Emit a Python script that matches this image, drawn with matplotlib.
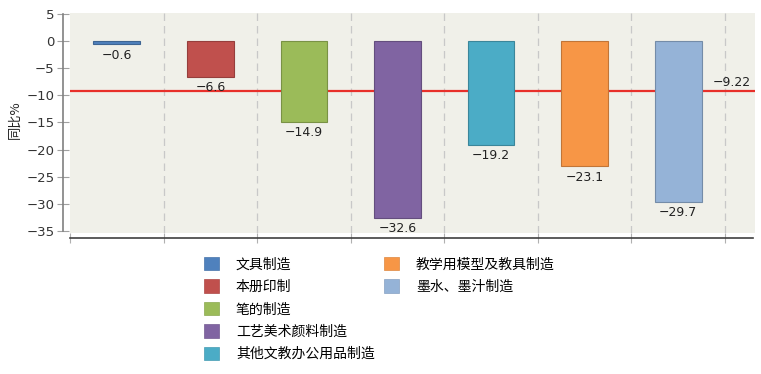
import matplotlib
matplotlib.use("Agg")
import matplotlib.pyplot as plt
from matplotlib.patches import Patch
from matplotlib.transforms import blended_transform_factory
import matplotlib.colors as mcolors

plt.rcParams['font.family'] = ['DejaVu Sans', 'Noto Sans CJK SC']
plt.rcParams['axes.unicode_minus'] = True

categories = ["文具制造", "本册印制", "笔的制造", "工艺美术颜料制造",
              "其他文教办公用品制造", "教学用模型及教具制造", "墨水、墨汁制造"]
values = [-0.6, -6.6, -14.9, -32.6, -19.2, -23.1, -29.7]
colors = ["#4f81bd", "#c0504d", "#9bbb59", "#8064a2", "#4bacc6", "#f79646", "#95b3d7"]
reference_value = -9.22
ylabel = "同比%"
yticks = [5, 0, -5, -10, -15, -20, -25, -30, -35]

W, H = 761, 374
fig = plt.figure(figsize=(W / 100, H / 100), dpi=100)
ax = fig.add_axes([70 / W, 1 - 233 / H, 685 / W, 220 / H])
ax.set_facecolor("#f0f0e9")

def darker(c, f=0.78):
    r, g, b = mcolors.to_rgb(c)
    return (r * f, g * f, b * f)

x = list(range(len(values)))
ax.bar(x, values, width=0.5, color=colors,
       edgecolor=[darker(c) for c in colors], linewidth=0.8, zorder=3)

ax.axhline(reference_value, color="#e8302a", linewidth=1.6, zorder=2)

for i in range(len(values)):
    ax.axvline(i + 0.5, color="#c8c8c8", linestyle=(0, (6, 4)), linewidth=0.9, zorder=1)

for xi, v in zip(x, values):
    ax.annotate(f"{v:.1f}".replace("-", "\u2212"), xy=(xi, v), xytext=(0, -3),
                textcoords="offset points", ha="center", va="top",
                fontsize=9, color="#222222", zorder=4)

tr = blended_transform_factory(ax.transAxes, ax.transData)
ax.annotate(f"{reference_value:.2f}".replace("-", "\u2212"), xy=(1, reference_value),
            xycoords=tr, xytext=(-3, 1.5), textcoords="offset points",
            ha="right", va="bottom", fontsize=9, color="#222222")

ax.set_xlim(-0.5, 6.5 + 30 / 93.7)
ax.set_ylim(-35.37, 5.18)
ax.set_yticks(yticks)
ax.set_yticklabels([str(t).replace("-", "\u2212") for t in yticks])
ax.set_xticks([i - 0.5 for i in range(len(values) + 1)])
ax.set_xticklabels([])

for s in ["top", "right"]:
    ax.spines[s].set_visible(False)
ax.spines["left"].set_position(("outward", 5))
ax.spines["left"].set_bounds(-35, 5)
ax.spines["left"].set_color("#808080")
ax.spines["left"].set_linewidth(1.2)
ax.spines["bottom"].set_position(("outward", 3.6))
ax.spines["bottom"].set_color("#404040")
ax.spines["bottom"].set_linewidth(1.2)
ax.spines["bottom"].set_bounds(-0.5, 6.5 + 28 / 93.7)
ax.tick_params(axis="y", direction="inout", length=8, width=0.8, color="#a0a0a0",
               labelsize=9.5, labelcolor="#333333", pad=2)
ax.tick_params(axis="x", direction="inout", length=7, width=0.8, color="#b0b0b0")

fig.text(15 / W, 1 - 120 / H, ylabel, rotation=90, ha="center", va="center",
         fontsize=9.5, family=["Noto Sans CJK SC", "DejaVu Sans"], color="#222222")

handles = [Patch(facecolor=c, edgecolor=darker(c, 0.9), linewidth=0.5) for c in colors]
common = dict(frameon=False, handlelength=1.1, handleheight=1.1,
              handletextpad=1.2, labelspacing=0.58, borderpad=0, borderaxespad=0,
              prop={"family": ["Noto Sans CJK SC", "DejaVu Sans"], "size": 10})
leg1 = fig.legend(handles[:5], categories[:5], loc="upper left",
                  bbox_to_anchor=(204 / W, 1 - 257 / H), **common)
leg2 = fig.legend(handles[5:], categories[5:], loc="upper left",
                  bbox_to_anchor=(384 / W, 1 - 257 / H), **common)

fig.savefig("out.png", dpi=100)
